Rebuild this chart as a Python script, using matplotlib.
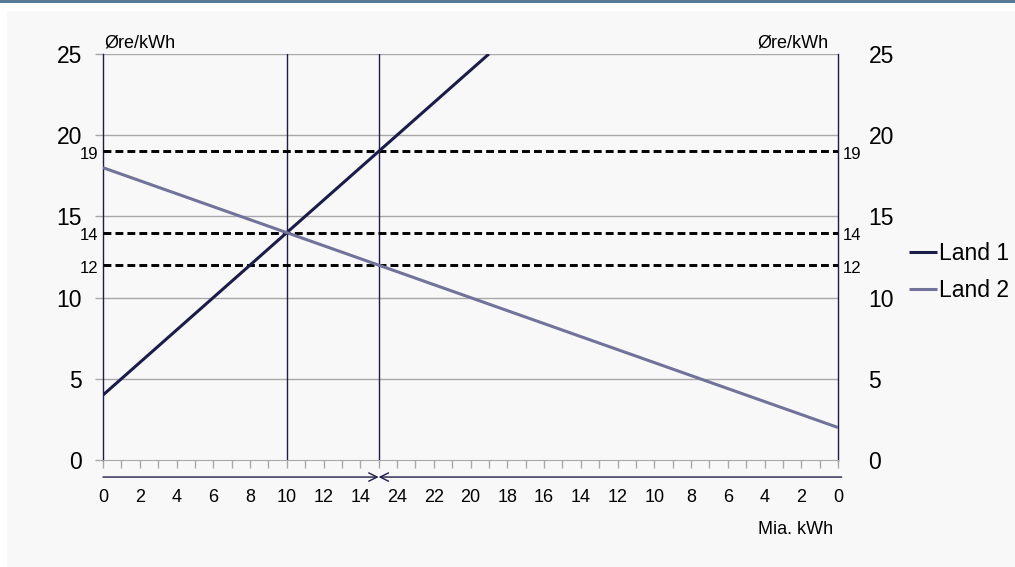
import matplotlib
matplotlib.use("Agg")
import matplotlib.pyplot as plt
from matplotlib.patches import Rectangle
import numpy as np

plt.rcParams['font.family'] = ['Liberation Sans', 'DejaVu Sans']

# data
land1_q = [0, 21]
land1_p = [4, 25]
land2_q = [0, 40]          # measured from the left; Land 2 counts from the right
land2_p = [18, 2]
price_levels = [19, 14, 12]
quantity_lines = [10, 15]
total_q = 40
left_labels = [0, 2, 4, 6, 8, 10, 12, 14]
right_labels = [24, 22, 20, 18, 16, 14, 12, 10, 8, 6, 4, 2, 0]
y_ticks = [0, 5, 10, 15, 20, 25]

navy = '#1c1c48'
grey_line = '#72739a'
grid_c = '#a8a8a8'
bg = '#f9f8f9'

fig = plt.figure(figsize=(10.15, 5.67), dpi=100)
fig.patch.set_facecolor('white')
fig.add_artist(Rectangle((7 / 1015, 0), 1, 1 - 11 / 567, transform=fig.transFigure,
                         facecolor=bg, edgecolor='none', zorder=-10))
fig.add_artist(Rectangle((0, 1 - 3 / 567), 1, 3 / 567, transform=fig.transFigure,
                         facecolor='#587a94', edgecolor='none', zorder=-10))

ax = fig.add_axes([103 / 1015, 1 - 460 / 567, 735 / 1015, 406 / 567])
ax.set_facecolor('none')
ax.set_xlim(0, total_q)
ax.set_ylim(0, 25)

# grid
for y in y_ticks[1:]:
    ax.axhline(y, color=grid_c, lw=1, zorder=1)

# vertical quantity lines
for q in quantity_lines:
    ax.axvline(q, color=navy, lw=1, zorder=2)

# dashed price levels
for p in price_levels:
    ax.axhline(p, color='black', lw=2.1, dashes=(2.7, 1.4), zorder=3)
    ax.text(-0.25, p - 0.2, str(p), ha='right', va='center', fontsize=12)
    ax.text(total_q + 0.25, p - 0.2, str(p), ha='left', va='center', fontsize=12)

l1, = ax.plot(land1_q, land1_p, color=navy, lw=2.2, label='Land 1', zorder=4,
              solid_capstyle='butt')
l2, = ax.plot(land2_q, land2_p, color=grey_line, lw=2.2, label='Land 2', zorder=4,
              solid_capstyle='butt')

# spines
ax.spines['top'].set_visible(False)
ax.spines['left'].set_color(navy)
ax.spines['right'].set_color(navy)
ax.spines['bottom'].set_color(grid_c)
ax.spines['left'].set_linewidth(1)
ax.spines['right'].set_linewidth(1)

# x ticks
xpos = left_labels + [total_q - v for v in right_labels]
xlab = [str(v) for v in left_labels + right_labels]
ax.set_xticks(xpos)
ax.set_xticklabels(xlab, fontsize=13)
ax.set_xticks(np.arange(0, total_q + 1), minor=True)
ax.tick_params(axis='x', which='both', direction='out', length=6, color=grid_c,
               width=1, pad=15)

# y ticks left / right
ax.set_yticks(y_ticks)
ax.set_yticklabels([str(v) for v in y_ticks], fontsize=16.5)
ax.tick_params(axis='y', direction='out', length=6, color=grid_c, width=1, pad=9,
               left=True, right=True, labelleft=True, labelright=False)
ax2 = ax.twinx()
ax2.set_ylim(0, 25)
ax2.set_yticks(y_ticks)
ax2.set_yticklabels([str(v) for v in y_ticks], fontsize=16.5)
ax2.tick_params(axis='y', length=0, pad=22)
for s in ax2.spines.values():
    s.set_visible(False)

# arrows below the axis
tr = ax.get_xaxis_transform()
arrow_style = dict(arrowstyle='->,head_length=0.6,head_width=0.3',
                   color=navy, lw=1, shrinkA=0, shrinkB=0)
ax.annotate('', xy=(quantity_lines[1], -0.042), xytext=(0, -0.042), xycoords=tr,
            textcoords=tr, annotation_clip=False, arrowprops=arrow_style)
ax.annotate('', xy=(quantity_lines[1], -0.042), xytext=(total_q + 0.2, -0.042),
            xycoords=tr, textcoords=tr, annotation_clip=False, arrowprops=arrow_style)

# unit labels
ax.text(0.1, 25.15, 'Øre/kWh', ha='left', va='bottom', fontsize=13)
ax.text(total_q - 0.5, 25.15, 'Øre/kWh', ha='right', va='bottom', fontsize=13)
fig.text(833 / 1015, 1 - 530 / 567, 'Mia. kWh', ha='right', va='center', fontsize=13)

fig.legend(handles=[l1, l2], loc='center left',
           bbox_to_anchor=(909 / 1015, 1 - 272 / 567), frameon=False,
           fontsize=16.5, handlelength=1.2, handletextpad=0.1, labelspacing=0.6,
           borderaxespad=0, borderpad=0)

fig.savefig('out.png', dpi=100, facecolor=fig.get_facecolor())
